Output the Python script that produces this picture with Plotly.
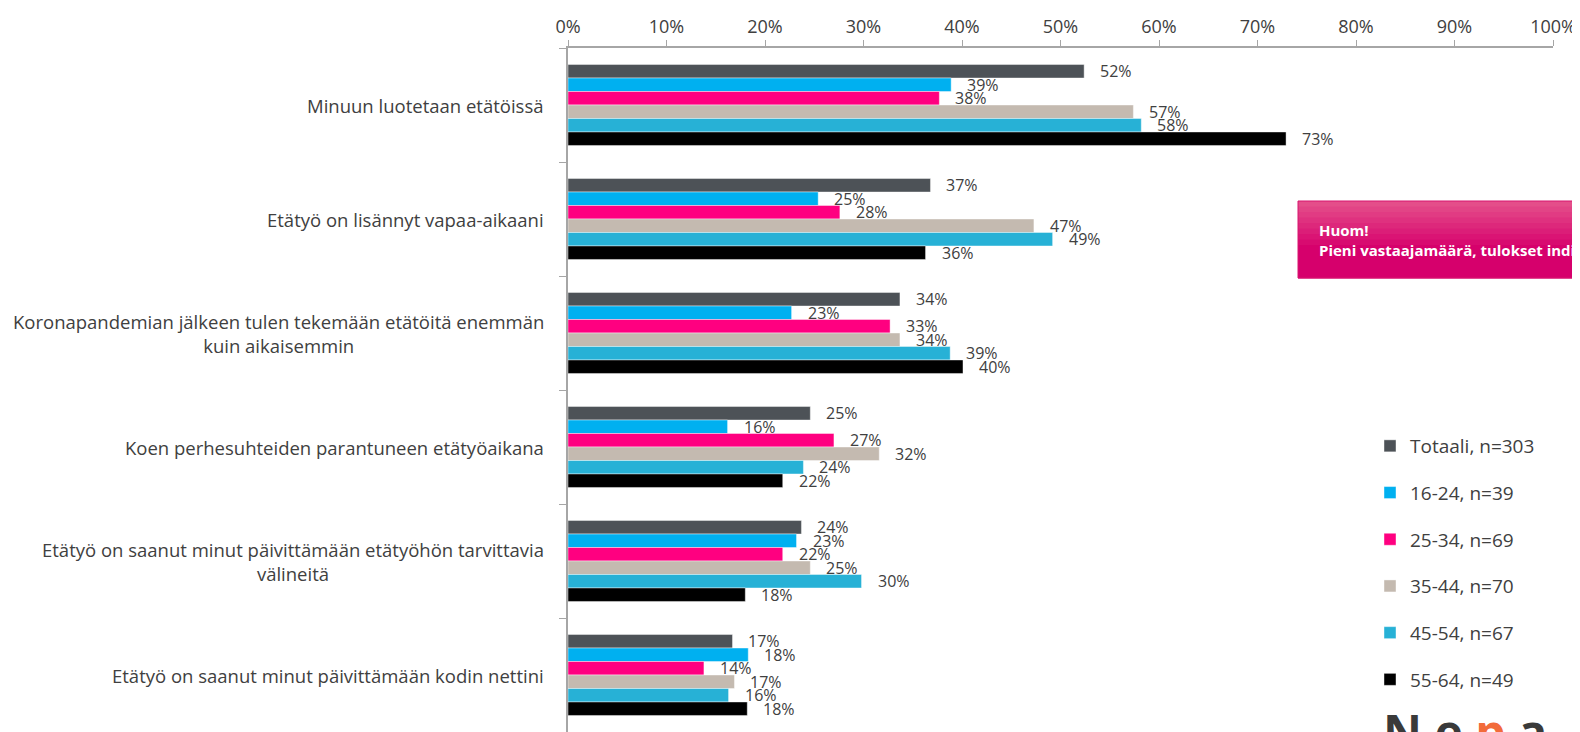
import plotly.graph_objects as go

categories = [
    "Minuun luotetaan etätöissä",
    "Etätyö on lisännyt vapaa-aikaani",
    "Koronapandemian jälkeen tulen tekemään etätöitä enemmän<br>kuin aikaisemmin",
    "Koen perhesuhteiden parantuneen etätyöaikana",
    "Etätyö on saanut minut päivittämään etätyöhön tarvittavia<br>välineitä",
    "Etätyö on saanut minut päivittämään kodin nettini",
]
series_names = ["Totaali, n=303", "16-24, n=39", "25-34, n=69", "35-44, n=70", "45-54, n=67", "55-64, n=49"]
totaali = [52.4, 36.8, 33.7, 24.6, 23.7, 16.7]
age_16_24 = [38.9, 25.4, 22.7, 16.2, 23.2, 18.3]
age_25_34 = [37.7, 27.6, 32.7, 27.0, 21.8, 13.8]
age_35_44 = [57.4, 47.3, 33.7, 31.6, 24.6, 16.9]
age_45_54 = [58.2, 49.2, 38.8, 23.9, 29.8, 16.3]
age_55_64 = [72.9, 36.3, 40.1, 21.8, 18.0, 18.2]
x_ticks = [0, 10, 20, 30, 40, 50, 60, 70, 80, 90, 100]
x_tick_labels = [f"{t}%" for t in x_ticks]
note_title = "Huom!"
note_text = "Pieni vastaajamäärä, tulokset indikatiivisia"

series_values = [totaali, age_16_24, age_25_34, age_35_44, age_45_54, age_55_64]
colors = ["#4D5257", "#00B0F0", "#FF0080", "#C4BAB0", "#27B1D6", "#000000"]

# page is offset by the default 8px body margin
OFF = 8
PAGE_W, PAGE_H = 1580, 732
W, H = PAGE_W - OFF, PAGE_H - OFF
ML, MR, MT, MB = 568 - OFF, 27, 48 - OFF, 0
BARGAP = 0.29
FONT = "Open Sans"
TXT = "#404040"

plot_w = W - ML - MR
plot_h = H - MT - MB


def px_x(page_px):
    return (page_px - OFF - ML) / plot_w


def px_y(page_py):
    return (H - MB - (page_py - OFF)) / plot_h


fig = go.Figure()
for name, vals, col in zip(series_names, series_values, colors):
    fig.add_trace(go.Bar(
        y=categories, x=vals, name=name, orientation="h",
        marker=dict(color=col, line=dict(color="rgba(255,255,255,0.7)", width=0.6)),
        legendgroup=name, hoverinfo="x+name",
    ))

cat_px = plot_h / len(categories)
n = len(series_names)
bar_px = cat_px * (1 - BARGAP) / n

annotations = []
for i, vals in enumerate(series_values):
    for c, v in zip(categories, vals):
        annotations.append(dict(
            x=v, y=c, xref="x", yref="y", text=f"{round(v)}%", showarrow=False,
            xanchor="left", yanchor="middle", xshift=14,
            yshift=((n - 1) / 2 - i) * bar_px,
            font=dict(family=FONT, size=16, color=TXT),
        ))
for c in categories:
    annotations.append(dict(
        x=0, y=c, xref="paper", yref="y", text=c, showarrow=False,
        xanchor="right", yanchor="middle", xshift=-22, align="center",
        font=dict(family=FONT, size=18.5, color=TXT),
    ))

# callout box with a soft vertical gradient
shapes = []
top_c, bot_c = (228, 78, 138), (214, 0, 108)
box_top, box_bot, box_left = 201, 278, 1298
steps = 14
for k in range(steps):
    t = k / (steps - 1)
    t = min(1.0, t * 1.6)
    col = tuple(round(a + (b - a) * t) for a, b in zip(top_c, bot_c))
    y0 = box_top + (box_bot - box_top) * k / steps
    y1 = box_top + (box_bot - box_top) * (k + 1) / steps
    shapes.append(dict(
        type="rect", xref="paper", yref="paper",
        x0=px_x(box_left), x1=px_x(1700), y0=px_y(y1 + 0.5), y1=px_y(y0),
        fillcolor="rgb(%d,%d,%d)" % col, line=dict(width=0), layer="above",
    ))
shapes.append(dict(
    type="rect", xref="paper", yref="paper",
    x0=px_x(box_left), x1=px_x(1700), y0=px_y(box_bot), y1=px_y(box_top),
    fillcolor="rgba(0,0,0,0)", line=dict(color="#D8146E", width=1), layer="above",
))
annotations.append(dict(
    x=px_x(1317), y=px_y(240), xref="paper", yref="paper",
    text=f"<b>{note_title}</b><br><b>{note_text}</b>",
    showarrow=False, xanchor="left", yanchor="middle", align="left",
    font=dict(family=FONT, size=15, color="white"),
))
# logo (only top visible at the bottom edge)
annotations.append(dict(
    x=px_x(1381), y=0, xref="paper", yref="paper",
    text="<b>N e <span style='color:#F26B3A'>p</span> a</b>",
    showarrow=False, xanchor="left", yanchor="top", yshift=35,
    font=dict(family=FONT, size=48, color="#3A3A3A"),
))

fig.update_layout(
    width=W, height=H,
    margin=dict(l=ML, r=MR, t=MT, b=MB, pad=0),
    paper_bgcolor="white", plot_bgcolor="white",
    barmode="group", bargap=BARGAP, bargroupgap=0,
    font=dict(family=FONT, size=18, color=TXT),
    xaxis=dict(
        side="top", range=[0, 100], tickvals=x_ticks, ticktext=x_tick_labels,
        showgrid=False, zeroline=False, showline=True, linecolor="#A6A6A6", linewidth=1.5,
        ticks="outside", ticklen=6, tickcolor="#A6A6A6",
        tickfont=dict(family=FONT, size=18, color=TXT),
    ),
    yaxis=dict(
        type="category", autorange="reversed", showticklabels=False,
        showgrid=False, zeroline=False, showline=True, linecolor="#A6A6A6", linewidth=1.5,
        ticks="outside", ticklen=7, tickcolor="#A6A6A6", tickson="boundaries",
    ),
    legend=dict(
        x=px_x(1370), y=px_y(427), xanchor="left", yanchor="top",
        traceorder="grouped", tracegroupgap=19, itemwidth=30,
        font=dict(family=FONT, size=19, color=TXT), bgcolor="rgba(0,0,0,0)",
    ),
    annotations=annotations, shapes=shapes,
)

fig.write_html("out.html")
